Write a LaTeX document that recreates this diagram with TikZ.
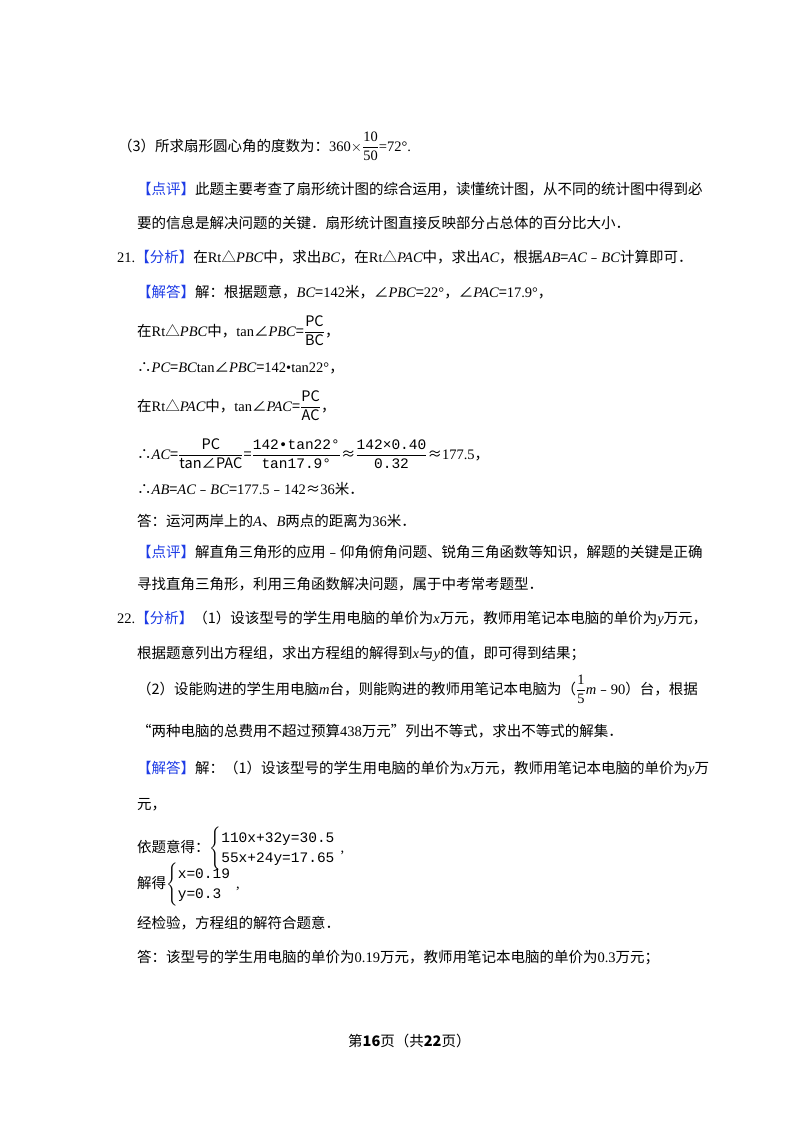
\documentclass[tikz,border=0pt]{standalone}
\usepackage{amsmath}
\usepackage{fontspec}
\setmainfont{Noto Sans CJK SC}
\newfontfamily\lat{Liberation Serif}
\newfontfamily\mono{Liberation Mono}
\newcommand\vi[1]{{\lat\itshape #1}}
\newcommand\rn[1]{{\lat #1}}
\newcommand\hl[1]{\textcolor{hlblue}{【#1】}}
\definecolor{hlblue}{RGB}{30,60,230}
\renewcommand\arraystretch{1.25}
\begin{document}
\begin{tikzpicture}[x=1pt,y=-1pt,
  t/.style={anchor=base west,inner sep=0pt,font=\fontsize{14.5}{16}\selectfont}]
\useasboundingbox[fill=white] (0,0) rectangle (800,1132);
\node[t] (l1) at (118,151) {（3）所求扇形圆心角的度数为：\rn{360}$\times\dfrac{\text{\Large\rn{10}}}{\text{\Large\rn{50}}}$\rn{=72°.}};
\node[t] (l2) at (137,194) {\hl{点评}此题主要考查了扇形统计图的综合运用，读懂统计图，从不同的统计图中得到必};
\node[t] (l3) at (137,228) {要的信息是解决问题的关键．扇形统计图直接反映部分占总体的百分比大小．};
\node[t] (l4) at (117,262) {\rn{21.}\hl{分析}在\rn{Rt}△\vi{PBC}中，求出\vi{BC}，在\rn{Rt}△\vi{PAC}中，求出\vi{AC}，根据\vi{AB}=\vi{AC}﹣\vi{BC}计算即可．};
\node[t] (l5) at (137,297) {\hl{解答}解：根据题意，\vi{BC}=\rn{142}米，∠\vi{PBC}=\rn{22°}，∠\vi{PAC}=\rn{17.9°}，};
\node[t] (l6) at (137,336) {在\rn{Rt}△\vi{PBC}中，\rn{tan}∠\vi{PBC}=$\dfrac{\mathrm{PC}}{\mathrm{BC}}$，};
\node[t] (l7) at (137,372) {∴\vi{PC}=\vi{BC}\rn{tan}∠\vi{PBC}=\rn{142•tan22°}，};
\node[t] (l8) at (137,411) {在\rn{Rt}△\vi{PAC}中，\rn{tan}∠\vi{PAC}=$\dfrac{\mathrm{PC}}{\mathrm{AC}}$，};
\node[t] (l9) at (137,459) {∴\vi{AC}=$\dfrac{\mathrm{PC}}{\text{tan∠PAC}}$=$\dfrac{\text{\mono 142•tan22°}}{\text{\mono tan17.9°}}$≈$\dfrac{\text{\mono 142×0.40}}{\text{\mono 0.32}}$≈\rn{177.5}，};
\node[t] (l10) at (137,494) {∴\vi{AB}=\vi{AC}﹣\vi{BC}=\rn{177.5}﹣\rn{142}≈\rn{36}米．};
\node[t] (l11) at (137,526) {答：运河两岸上的\vi{A}、\vi{B}两点的距离为\rn{36}米．};
\node[t] (l12) at (137,557) {\hl{点评}解直角三角形的应用﹣仰角俯角问题、锐角三角函数等知识，解题的关键是正确};
\node[t] (l13) at (137,589) {寻找直角三角形，利用三角函数解决问题，属于中考常考题型．};
\node[t] (l14) at (117,623) {\rn{22.}\hl{分析}（1）设该型号的学生用电脑的单价为\vi{x}万元，教师用笔记本电脑的单价为\vi{y}万元，};
\node[t] (l15) at (137,658) {根据题意列出方程组，求出方程组的解得到\vi{x}与\vi{y}的值，即可得到结果；};
\node[t] (l16) at (137,694) {（2）设能购进的学生用电脑\vi{m}台，则能购进的教师用笔记本电脑为（$\dfrac{\text{\Large\rn{1}}}{\text{\Large\rn{5}}}$\vi{m}﹣\rn{90}）台，根据};
\node[t] (l17) at (137,736) {“两种电脑的总费用不超过预算\rn{438}万元”列出不等式，求出不等式的解集．};
\node[t] (l18) at (137,773) {\hl{解答}解：（1）设该型号的学生用电脑的单价为\vi{x}万元，教师用笔记本电脑的单价为\vi{y}万};
\node[t] (l19) at (137,809) {元，};
\node[t] (l20) at (137,852) {依题意得：$\left\{\begin{array}{@{}l}\text{\mono 110x+32y=30.5}\\ \text{\mono 55x+24y=17.65}\end{array}\right.$\rn{,}};
\node[t] (l21) at (137,888) {解得$\left\{\begin{array}{@{}l}\text{\mono x=0.19}\\ \text{\mono y=0.3}\end{array}\right.$\rn{,}};
\node[t] (l22) at (137,928) {经检验，方程组的解符合题意．};
\node[t] (l23) at (137,962) {答：该型号的学生用电脑的单价为\rn{0.19}万元，教师用笔记本电脑的单价为\rn{0.3}万元；};
\node[t] (ft) at (348,1046) {第\textbf{16}页（共\textbf{22}页）};
\end{tikzpicture}
\end{document}
